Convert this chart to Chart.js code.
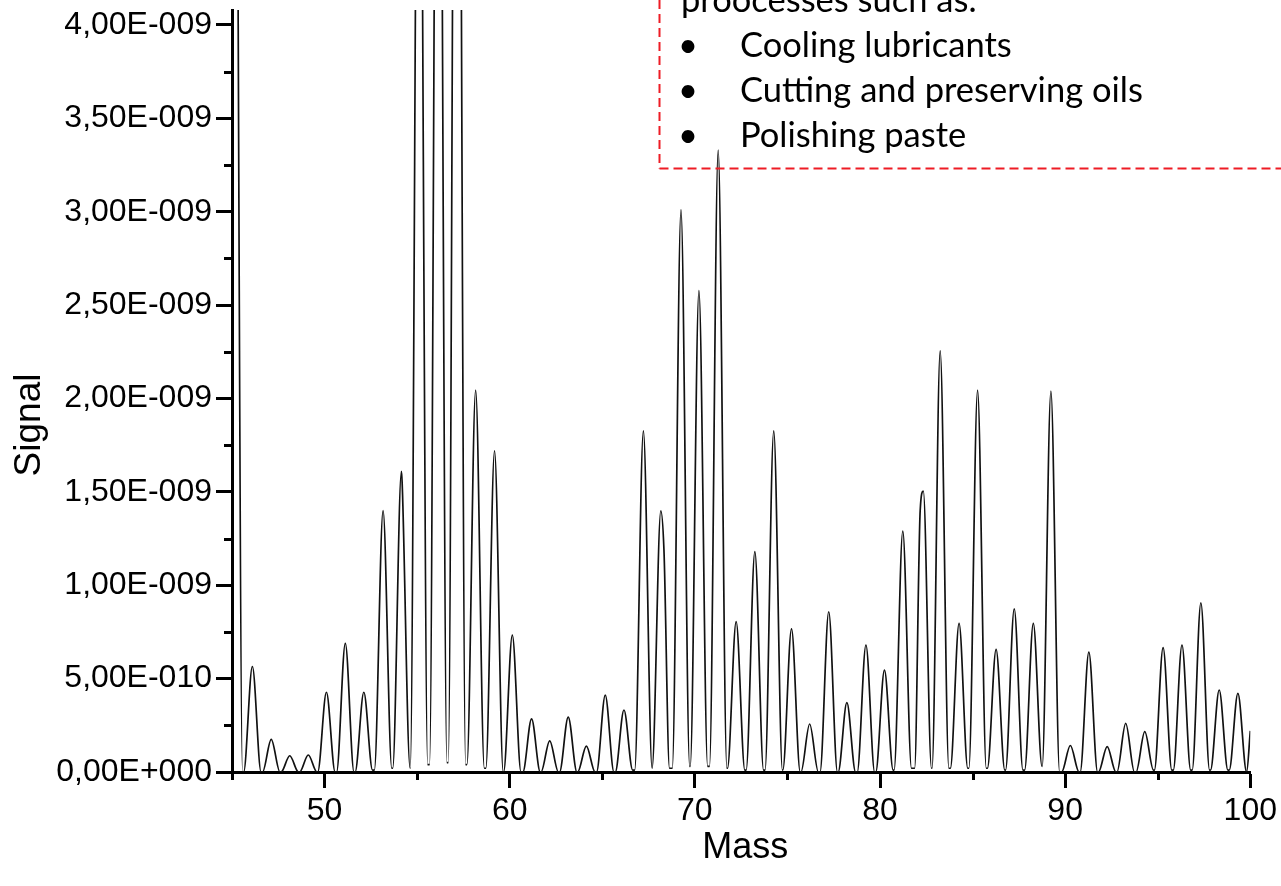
<!DOCTYPE html>
<html>
<head>
<meta charset="utf-8">
<script src="https://cdn.jsdelivr.net/npm/chart.js@4.4.1/dist/chart.umd.min.js"></script>
<style>
  html, body { margin: 0; padding: 0; background: #fff; overflow: hidden; }
  #wrap { position: relative; width: 1281px; height: 886px; }
  #note { position: absolute; left: 0; top: 0; width: 1281px; height: 886px; pointer-events: none; }
  #noteText { position: absolute; left: 681px; top: -24px; font-family: Lato, "Noto Sans", sans-serif; font-size: 34.5px; line-height: 45px; color: #000; white-space: nowrap; }
  #noteText .b { display: inline-block; width: 59px; margin-left: -3px; padding-right: 3px; }
</style>
</head>
<body>
<div id="wrap">
  <canvas id="myChart" width="1281" height="886"></canvas>
  <svg id="note" width="1281" height="886">
    <line x1="659.5" y1="0" x2="659.5" y2="168.5" stroke="#ee1c25" stroke-width="2" stroke-dasharray="9 5"/>
    <line x1="659.5" y1="168.5" x2="1281" y2="168.5" stroke="#ee1c25" stroke-width="2" stroke-dasharray="9 5"/>
  </svg>
  <div id="noteText">
    <div>proocesses such as:</div>
    <div><span class="b">•</span>Cooling lubricants</div>
    <div><span class="b">•</span>Cutting and preserving oils</div>
    <div><span class="b">•</span>Polishing paste</div>
  </div>
</div>
<script>
"use strict";

// Peak apex positions (Mass) and heights (Signal, units of 1E-009)
const peakMass = [
  45.10, 46.10, 47.12, 48.12, 49.12, 50.10, 51.12, 52.12, 53.16, 54.15,
  55.10, 56.14, 57.15, 58.16, 59.18, 60.14, 61.18, 62.16, 63.16, 64.14,
  65.16, 66.17, 67.22, 68.16, 69.25, 70.22, 71.26, 72.23, 73.24, 74.26,
  75.22, 76.20, 77.23, 78.21, 79.24, 80.24, 81.23, 82.34, 83.25, 84.27,
  85.27, 86.27, 87.25, 88.28, 89.23, 90.28, 91.28, 92.27, 93.27, 94.30,
  95.29, 96.31, 97.33, 98.32, 99.33
];
const peakSignal = [
  8.0, 0.565, 0.175, 0.087, 0.091, 0.427, 0.689, 0.427, 1.40, 1.61,
  6.5, 7.5, 8.5, 2.045, 1.72, 0.733, 0.284, 0.167, 0.294, 0.139,
  0.412, 0.332, 1.827, 1.398, 3.01, 2.577, 3.33, 0.805, 1.18, 1.827,
  0.766, 0.257, 0.858, 0.371, 0.68, 0.546, 1.29, 1.504, 2.255, 0.796,
  2.045, 0.657, 0.873, 0.796, 2.04, 0.142, 0.642, 0.136, 0.26, 0.216,
  0.666, 0.68, 0.906, 0.439, 0.421
];
// Signal at the bottom of each valley between two neighbouring peaks (1E-009)
const valleySignal = [
  0.0, 0.0, 0.0, 0.0, 0.0, 0.0, 0.0, 0.01, 0.02, 0.02,
  0.04, 0.05, 0.04, 0.02, 0.0, 0.0, 0.0, 0.0, 0.0, 0.0,
  0.0, 0.01, 0.02, 0.02, 0.03, 0.03, 0.02, 0.01, 0.01, 0.01,
  0.0, 0.0, 0.0, 0.0, 0.0, 0.01, 0.02, 0.02, 0.02, 0.02,
  0.02, 0.01, 0.01, 0.03, 0.0, 0.0, 0.0, 0.0, 0.0, 0.01,
  0.01, 0.01, 0.01, 0.01
];
// Shoulders on the flanks of a few peaks
const shoulderMass = [54.19, 68.33, 82.17];
const shoulderSignal = [1.55, 1.19, 1.40];
// Trace value where it leaves the plot at the right edge
const edgeMass = [100.0];
const edgeSignal = [0.22];
const peakFoot = 0.47;

const signalTicks = [0, 0.5e-9, 1.0e-9, 1.5e-9, 2.0e-9, 2.5e-9, 3.0e-9, 3.5e-9, 4.0e-9];
const signalTickLabels = ["0,00E+000", "5,00E-010", "1,00E-009", "1,50E-009", "2,00E-009",
  "2,50E-009", "3,00E-009", "3,50E-009", "4,00E-009"];
const signalMinorTicks = [0.25e-9, 0.75e-9, 1.25e-9, 1.75e-9, 2.25e-9, 2.75e-9, 3.25e-9, 3.75e-9];
const massTicks = [50, 60, 70, 80, 90, 100];
const massTickLabels = ["50", "60", "70", "80", "90", "100"];
const massMinorTicks = [45, 55, 65, 75, 85, 95];

const UNIT = 1e-9;

// Build the trace: foot, apex, foot for every peak, plus shoulders and the right edge
function buildTrace() {
  const points = [];
  peakMass.forEach((m, i) => {
    const left = i === 0 ? 0 : valleySignal[i - 1];
    const right = i < valleySignal.length ? valleySignal[i] : 0;
    points.push({ x: m - peakFoot, y: left * UNIT });
    points.push({ x: m, y: peakSignal[i] * UNIT });
    points.push({ x: m + peakFoot, y: right * UNIT });
  });
  shoulderMass.forEach((m, i) => points.push({ x: m, y: shoulderSignal[i] * UNIT }));
  edgeMass.forEach((m, i) => points.push({ x: m, y: edgeSignal[i] * UNIT }));
  points.sort((a, b) => a.x - b.x);
  return points;
}

const tickFont = { family: "'Liberation Sans', Arial, sans-serif", size: 32 };

// Minor ticks and axis titles
const axisExtras = {
  id: "axisExtras",
  afterDraw(chart) {
    const { ctx, chartArea } = chart;
    const xs = chart.scales.x;
    const ys = chart.scales.y;
    ctx.save();
    ctx.strokeStyle = "#000";
    ctx.lineWidth = 3;
    ctx.beginPath();
    massMinorTicks.forEach(v => {
      const px = Math.round(xs.getPixelForValue(v)) + 0.5;
      ctx.moveTo(px, chartArea.bottom);
      ctx.lineTo(px, chartArea.bottom + 8);
    });
    signalMinorTicks.forEach(v => {
      const py = Math.round(ys.getPixelForValue(v)) + 0.5;
      ctx.moveTo(chartArea.left, py);
      ctx.lineTo(chartArea.left - 8, py);
    });
    ctx.stroke();

    ctx.fillStyle = "#000";
    ctx.font = "36px 'Liberation Sans', Arial, sans-serif";
    ctx.textAlign = "center";
    ctx.textBaseline = "alphabetic";
    ctx.fillText("Mass", (chartArea.left + chartArea.right) / 2 + 4, 858);
    ctx.font = "37px 'Liberation Sans', Arial, sans-serif";
    ctx.translate(40, 425);
    ctx.rotate(-Math.PI / 2);
    ctx.fillText("Signal", 0, 0);
    ctx.restore();
  }
};

const ctx = document.getElementById("myChart").getContext("2d");

new Chart(ctx, {
  type: "line",
  data: {
    datasets: [
      {
        label: "Signal",
        data: buildTrace(),
        borderColor: "#111",
        borderWidth: 1.7,
        pointRadius: 0,
        fill: false,
        cubicInterpolationMode: "monotone"
      }
    ]
  },
  options: {
    responsive: false,
    animation: false,
    layout: { padding: { left: 0, right: 28, top: 10, bottom: 0 } },
    plugins: {
      legend: { display: false },
      tooltip: { enabled: false }
    },
    scales: {
      x: {
        type: "linear",
        min: 45,
        max: 100,
        afterFit: (scale) => { scale.height = 114; },
        afterBuildTicks: (scale) => { scale.ticks = massTicks.map(v => ({ value: v })); },
        ticks: {
          font: tickFont,
          color: "#000",
          padding: 4,
          maxRotation: 0,
          callback: (value, index) => massTickLabels[index]
        },
        grid: { drawOnChartArea: false, tickLength: 16, tickWidth: 3, tickColor: "#000" },
        border: { display: true, width: 3, color: "#000" }
      },
      y: {
        min: 0,
        max: 4.08e-9,
        afterFit: (scale) => {
          scale.width = 232;
          scale.paddingTop = 0;
          scale.paddingBottom = 0;
        },
        afterBuildTicks: (scale) => { scale.ticks = signalTicks.map(v => ({ value: v })); },
        ticks: {
          font: tickFont,
          color: "#000",
          padding: 4,
          callback: (value, index) => signalTickLabels[index]
        },
        grid: { drawOnChartArea: false, tickLength: 16, tickWidth: 3, tickColor: "#000" },
        border: { display: true, width: 3, color: "#000" }
      }
    }
  },
  plugins: [axisExtras]
});
</script>
</body>
</html>
